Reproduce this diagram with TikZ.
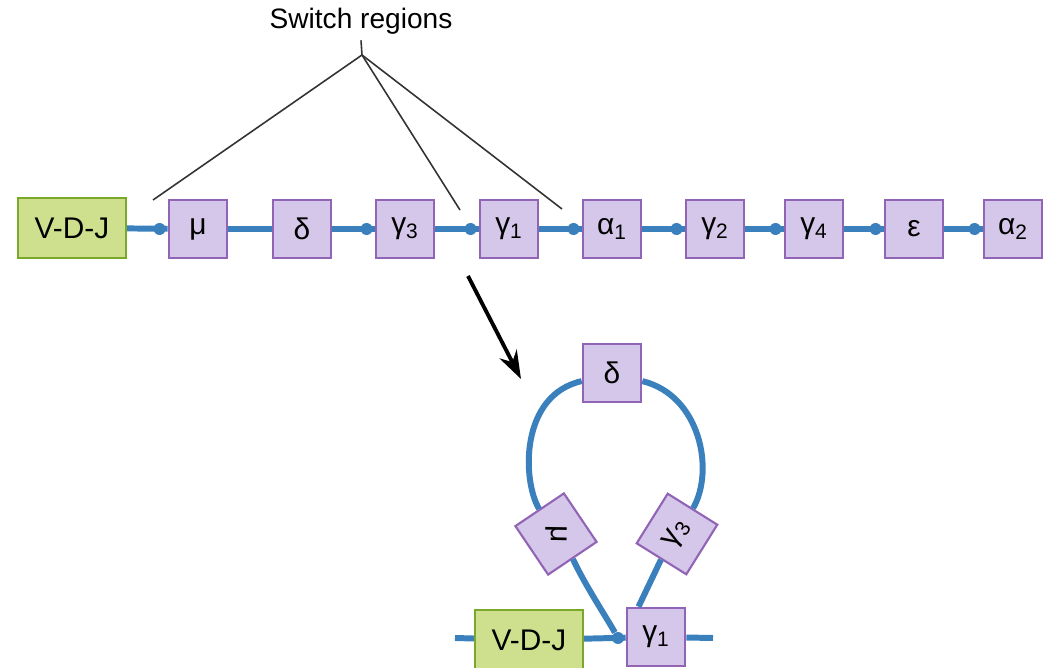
\documentclass[tikz,border=0pt]{standalone}
\usepackage{fontspec}
\setmainfont{Liberation Sans}
\usepackage{tikz}
\usepackage{xcolor}
\usetikzlibrary{arrows.meta,positioning}
\definecolor{chainblue}{RGB}{58,128,188}
\definecolor{genefill}{RGB}{213,199,233}
\definecolor{genedraw}{RGB}{145,100,182}
\definecolor{vdjfill}{RGB}{206,224,142}
\definecolor{vdjdraw}{RGB}{122,168,44}

\begin{document}
\begin{tikzpicture}[x=0.02cm, y=-0.02cm,
    gene/.style={draw=genedraw, line width=1.2pt, fill=genefill, minimum size=1.17cm, inner sep=0pt, font=\fontsize{17}{20}\selectfont},
    vdj/.style={draw=vdjdraw, line width=1.2pt, fill=vdjfill, minimum width=2.16cm, minimum height=1.2cm, inner sep=0pt, font=\fontsize{17}{20}\selectfont},
    swdot/.style={circle, fill=chainblue, inner sep=0pt, minimum size=0.24cm},
    chain/.style={draw=chainblue, line width=3.4pt},
    pointer/.style={draw=black!80, line width=0.9pt}]
    \useasboundingbox (0,0) rectangle (1052,668);

    % Switch regions label
    \node[font=\fontsize{16}{19}\selectfont] (swlabel) at (361,21) {Switch regions};
    \coordinate (hub) at (362,55);
    \coordinate (e1) at (153,200);
    \coordinate (e2) at (460,210);
    \coordinate (e3) at (562,209);
    \draw[pointer] (swlabel.south) -- (hub);
    \draw[pointer] (hub) -- (e1);
    \draw[pointer] (hub) -- (e2);
    \draw[pointer] (hub) -- (e3);

    % Heavy chain constant region
    \node[vdj] (vdj) at (72,228) {V-D-J};
    \node[gene] (mu) at (198,229) {μ};
    \node[gene] (delta) at (302,229) {δ};
    \node[gene] (gthree) at (405,229) {γ\textsubscript{3}};
    \node[gene] (gone) at (509,229) {γ\textsubscript{1}};
    \node[gene] (aone) at (612,229) {α\textsubscript{1}};
    \node[gene] (gtwo) at (715,229) {γ\textsubscript{2}};
    \node[gene] (gfour) at (814,229) {γ\textsubscript{4}};
    \node[gene] (eps) at (914,229) {ε};
    \node[gene] (atwo) at (1013,229) {α\textsubscript{2}};
    \foreach \a/\b in {vdj/mu, mu/delta, delta/gthree, gthree/gone, gone/aone, aone/gtwo, gtwo/gfour, gfour/eps, eps/atwo}
        \draw[chain] (\a) -- (\b);

    % switch sites
    \foreach \g in {mu, gthree, gone, aone, gtwo, gfour, eps, atwo}
        \node[swdot, left=1pt of \g] (sw-\g) {};

    % Arrow
    \coordinate (arfrom) at (468,276);
    \coordinate (arto) at (521,379);
    \draw[-{Stealth[length=16pt, width=11pt]}, line width=2.2pt] (arfrom) -- (arto);

    % Looped-out DNA
    \node[gene] (delta2) at (612,373) {δ};
    \node[gene, rotate=34] (mu2) at (556,534) {\rotatebox{-125}{μ}};
    \node[gene, rotate=58] (gthree2) at (677,534) {γ\textsubscript{3}};
    \node[vdj] (vdj2) at (529,640) {V-D-J};
    \node[gene] (gone2) at (656,637) {γ\textsubscript{1}};
    \coordinate (tleft) at (455,638);
    \coordinate (tright) at (713,638);

    \draw[chain] (tleft) -- (vdj2);
    \draw[chain] (vdj2) -- (gone2);
    \draw[chain] (gone2) -- (tright);
    \draw[chain] (mu2.north) .. controls (522,480) and (520,395) .. (delta2.195);
    \draw[chain] (delta2.-15) .. controls (700,395) and (715,470) .. (gthree2.east);
    \draw[chain] (gthree2.west) -- (gone2.120);
    \node[swdot] (join) at (618,638) {};
    \draw[chain] (mu2.south) .. controls (585,585) and (605,615) .. (join);
\end{tikzpicture}
\end{document}
